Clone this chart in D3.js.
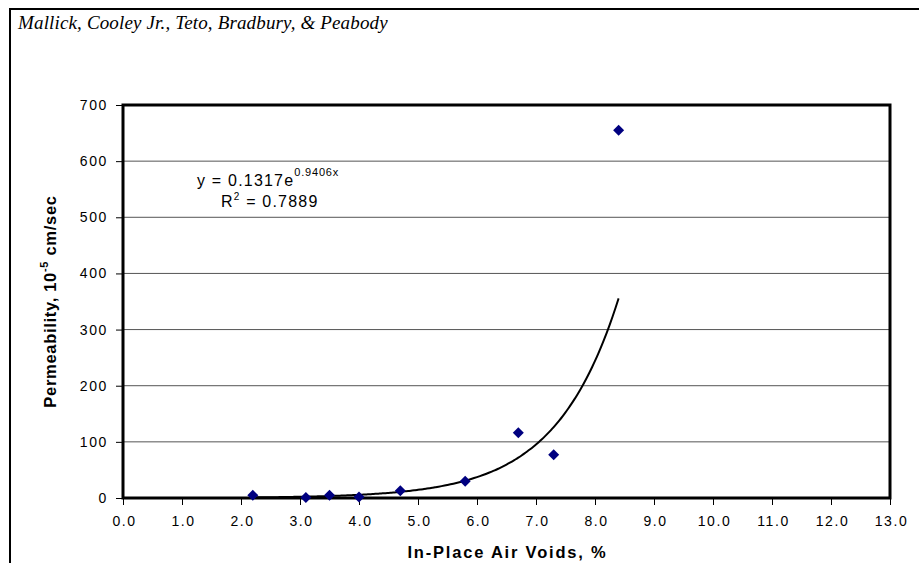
<!DOCTYPE html>
<html>
<head>
<meta charset="utf-8">
<script src="https://cdn.jsdelivr.net/npm/d3@7"></script>
<style>
  html, body { margin: 0; padding: 0; background: #fff; }
  svg { display: block; }
</style>
</head>
<body>
<svg id="chart" width="919" height="563"></svg>
<script>
// Measured air voids (%) and permeability (10^-5 cm/sec)
const airVoids     = [2.2, 3.1, 3.5, 4.0, 4.7, 5.8, 6.7, 7.3, 8.4];
const permeability = [5, 1, 5, 2, 13, 30, 116, 77, 655];

// Exponential trendline y = a * e^(b x)
const trendA = 0.1317;
const trendB = 0.9406;
const rSquared = 0.7889;

const xTicks = [0,1,2,3,4,5,6,7,8,9,10,11,12,13];
const yTicks = [0,100,200,300,400,500,600,700];

const titleText = "Mallick, Cooley Jr., Teto, Bradbury, & Peabody";
const xTitle = "In-Place Air Voids, %";

const svg = d3.select("#chart");
const plot = { left: 123, right: 890, top: 105, bottom: 498 };

const x = d3.scaleLinear().domain([0, 13]).range([plot.left, plot.right]);
const y = d3.scaleLinear().domain([0, 700]).range([plot.bottom, plot.top]);

// Outer chart frame
svg.append("rect")
  .attr("x", 10).attr("y", 9).attr("width", 950).attr("height", 600)
  .attr("fill", "#fff").attr("stroke", "#000").attr("stroke-width", 2);

// Author line
svg.append("text")
  .attr("x", 18).attr("y", 29)
  .attr("font-family", "'Liberation Serif', 'Times New Roman', serif")
  .attr("font-style", "italic").attr("font-size", 19)
  .attr("letter-spacing", 0.15)
  .attr("fill", "#000")
  .text(titleText);

// Horizontal gridlines
svg.append("g").selectAll("line")
  .data(yTicks.filter(d => d > 0 && d < 700))
  .join("line")
  .attr("x1", plot.left).attr("x2", plot.right)
  .attr("y1", d => y(d)).attr("y2", d => y(d))
  .attr("stroke", "#555").attr("stroke-width", 1);

// Axes
const tickFont = "'Liberation Sans', Arial, sans-serif";
const yAxis = svg.append("g")
  .attr("transform", `translate(${plot.left},0)`)
  .call(d3.axisLeft(y).tickValues(yTicks).tickSize(7).tickPadding(8).tickFormat(d3.format("d")));
const xAxis = svg.append("g")
  .attr("transform", `translate(0,${plot.bottom})`)
  .call(d3.axisBottom(x).tickValues(xTicks).tickSize(7).tickPadding(11).tickFormat(d3.format(".1f")));

[yAxis, xAxis].forEach(g => {
  g.select(".domain").remove();
  g.selectAll(".tick line").attr("stroke", "#000").attr("stroke-width", 1);
  g.selectAll(".tick text")
    .attr("font-family", tickFont).attr("font-size", 14)
    .attr("letter-spacing", 1.6).attr("fill", "#000");
});
xAxis.selectAll(".tick text").attr("dx", 1);

// Plot area border
svg.append("rect")
  .attr("x", plot.left).attr("y", plot.top)
  .attr("width", plot.right - plot.left).attr("height", plot.bottom - plot.top)
  .attr("fill", "none").attr("stroke", "#000").attr("stroke-width", 3);

// Trendline
const curveX = d3.range(d3.min(airVoids), d3.max(airVoids) + 1e-9, 0.05);
if (curveX[curveX.length - 1] < d3.max(airVoids)) curveX.push(d3.max(airVoids));
svg.append("path")
  .datum(curveX.map(v => [v, trendA * Math.exp(trendB * v)]))
  .attr("fill", "none").attr("stroke", "#000").attr("stroke-width", 2)
  .attr("d", d3.line().x(d => x(d[0])).y(d => y(d[1])).curve(d3.curveMonotoneX));

// Data markers (diamonds)
const points = airVoids.map((v, i) => ({ x: v, y: permeability[i] }));
svg.append("g").selectAll("path")
  .data(points)
  .join("path")
  .attr("transform", d => `translate(${x(d.x)},${y(d.y)})`)
  .attr("d", "M0,-5.5L5.5,0L0,5.5L-5.5,0Z")
  .attr("fill", "#000080");

// Trendline equation
const eq = svg.append("text")
  .attr("x", 197).attr("y", 186)
  .attr("font-family", tickFont).attr("font-size", 16)
  .attr("letter-spacing", 1.2).attr("fill", "#000");
eq.append("tspan").text(`y = ${trendA}e`);
eq.append("tspan").attr("dy", -10).attr("font-size", 11).attr("letter-spacing", 0.8)
  .text(`${trendB}x`);

const r2 = svg.append("text")
  .attr("x", 221).attr("y", 207)
  .attr("font-family", tickFont).attr("font-size", 16)
  .attr("letter-spacing", 1.2).attr("fill", "#000");
r2.append("tspan").text("R");
r2.append("tspan").attr("dy", -7).attr("font-size", 10).text("2");
r2.append("tspan").attr("dy", 7).text(` = ${rSquared}`);

// Axis titles
svg.append("text")
  .attr("x", (plot.left + plot.right) / 2 + 1).attr("y", 558)
  .attr("text-anchor", "middle")
  .attr("font-family", tickFont).attr("font-weight", "bold").attr("font-size", 16.5)
  .attr("letter-spacing", 1.8)
  .text(xTitle);

const yt = svg.append("text")
  .attr("transform", `translate(56,${(plot.top + plot.bottom) / 2}) rotate(-90)`)
  .attr("text-anchor", "middle")
  .attr("font-family", tickFont).attr("font-weight", "bold").attr("font-size", 16.5)
  .attr("letter-spacing", 0.7);
yt.append("tspan").text("Permeability, 10");
yt.append("tspan").attr("dy", -8).attr("font-size", 11).text("-5");
yt.append("tspan").attr("dy", 8).text(" cm/sec");
</script>
</body>
</html>
